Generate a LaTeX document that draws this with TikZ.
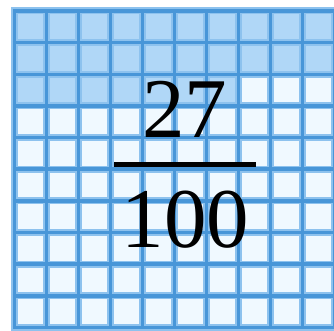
\documentclass[tikz,border=0pt]{standalone}
\usepackage{fontspec}
\setmainfont{Liberation Serif}
\definecolor{cellfilled}{HTML}{B0D7F7}
\definecolor{cellblank}{HTML}{F0F9FF}
\definecolor{gridhalo}{HTML}{8DC2EE}
\definecolor{gridcore}{HTML}{4896D8}
\tikzset{
  halo line/.style={draw=gridhalo, line width=7pt},
  core line/.style={draw=gridcore, line width=3.5pt},
  numtext/.style={font=\fontsize{85}{90}\selectfont, inner sep=0pt, anchor=base},
}
\begin{document}
\begin{tikzpicture}[x=1pt,y=1pt]
\useasboundingbox (0,0) rectangle (334,331);
\clip (0,0) rectangle (334,331);
% cells
\foreach \i in {0,...,9}{
  \foreach \j in {0,...,9}{
    \pgfmathtruncatemacro{\k}{\j*10+\i}
    \pgfmathsetmacro{\xa}{14.5+32*\i}
    \pgfmathsetmacro{\ya}{331-11-31.65*\j}
    \ifnum\k<27
      \fill[cellfilled] (\xa,\ya) rectangle ++(32,-31.65);
    \else
      \fill[cellblank] (\xa,\ya) rectangle ++(32,-31.65);
    \fi
  }
}
% grid lines
\foreach \i in {0,...,10}{
  \pgfmathsetmacro{\xa}{14.5+32*\i}
  \draw[halo line] (\xa,331-7.5) -- (\xa,331-330.5);
}
\foreach \j in {0,...,10}{
  \pgfmathsetmacro{\ya}{331-11-31.65*\j}
  \draw[halo line] (11,\ya) -- (340,\ya);
}
\foreach \i in {0,...,10}{
  \pgfmathsetmacro{\xa}{14.5+32*\i}
  \draw[core line] (\xa,331-9.25) -- (\xa,331-329.2);
}
\foreach \j in {0,...,10}{
  \pgfmathsetmacro{\ya}{331-11-31.65*\j}
  \draw[core line] (12.75,\ya) -- (340,\ya);
}
% fraction
\node[numtext] (num) at (184.5,193) {27};
\node[numtext] (den) at (185.5,83) {100};
\coordinate (barL) at (114,166.5);
\coordinate (barR) at (256,166.5);
\draw[line width=5pt] (barL) -- (barR);
\end{tikzpicture}
\end{document}
